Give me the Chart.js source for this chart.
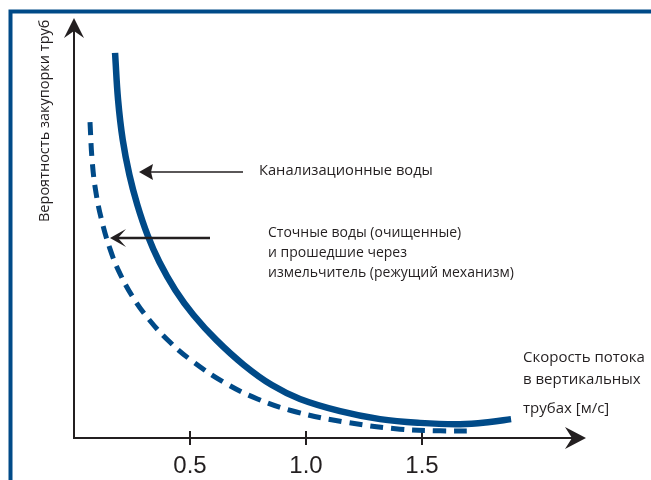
<!DOCTYPE html>
<html>
<head>
<meta charset="utf-8">
<script src="https://cdn.jsdelivr.net/npm/chart.js@4"></script>
<style>
  body { margin: 0; background: #fff; }
  canvas { display: block; }
</style>
</head>
<body>
<canvas id="clogChart" width="651" height="480"></canvas>
<script>
// скорость потока (м/с) и условная вероятность закупорки
const sewageX = [0.177, 0.190, 0.210, 0.239, 0.273, 0.317, 0.368, 0.437, 0.515, 0.614, 0.732, 0.853, 0.974, 1.147, 1.319, 1.491, 1.664, 1.793, 1.884];
const sewageY = [9.17, 8.05, 7.10, 6.26, 5.55, 4.83, 4.19, 3.52, 2.93, 2.33, 1.74, 1.26, 0.93, 0.64, 0.45, 0.36, 0.33, 0.38, 0.45];

const treatedX = [0.069, 0.078, 0.093, 0.119, 0.154, 0.195, 0.253, 0.325, 0.412, 0.503, 0.645, 0.791, 0.959, 1.168, 1.405, 1.578, 1.716];
const treatedY = [7.52, 6.62, 5.90, 5.19, 4.52, 3.95, 3.36, 2.81, 2.29, 1.86, 1.33, 0.93, 0.62, 0.38, 0.21, 0.17, 0.17];

const xTicks = [0.5, 1.0, 1.5];
const xTickLabels = ["0.5", "1.0", "1.5"];

const BLUE = "#004a88";
const INK = "#231f20";

function pairs(xs, ys) {
    return xs.map((x, i) => ({ x: x, y: ys[i] }));
}

function arrowHead(ctx, tipX, tipY, dir, len, half, notch) {
    // dir: angle the arrow points to
    const c = Math.cos(dir), s = Math.sin(dir);
    const pt = (a, b) => [tipX - a * c + b * s, tipY - a * s - b * c];
    const w1 = pt(len, half), w2 = pt(len, -half), n = pt(len - notch, 0);
    ctx.beginPath();
    ctx.moveTo(tipX, tipY);
    ctx.lineTo(w1[0], w1[1]);
    ctx.lineTo(n[0], n[1]);
    ctx.lineTo(w2[0], w2[1]);
    ctx.closePath();
    ctx.fill();
}

const decorPlugin = {
    id: "decor",
    beforeDatasetsDraw(chart) {
        const ctx = chart.ctx;
        const a = chart.chartArea;
        const xs = chart.scales.x;
        ctx.save();

        // рамка
        ctx.strokeStyle = BLUE;
        ctx.lineWidth = 4;
        ctx.beginPath();
        ctx.moveTo(10.5, 490);
        ctx.lineTo(10.5, 11.5);
        ctx.lineTo(660, 11.5);
        ctx.stroke();

        // оси
        ctx.strokeStyle = INK;
        ctx.fillStyle = INK;
        ctx.lineWidth = 2;
        ctx.beginPath();
        ctx.moveTo(a.left, a.top + 10);
        ctx.lineTo(a.left, a.bottom);
        ctx.lineTo(a.right - 10, a.bottom);
        ctx.stroke();
        arrowHead(ctx, a.left, a.top, -Math.PI / 2, 20, 10, 7);
        arrowHead(ctx, a.right, a.bottom, 0, 21, 11, 7);

        // деления и подписи
        ctx.font = "24px 'Liberation Sans Narrow', 'Liberation Sans', sans-serif";
        ctx.textAlign = "center";
        ctx.textBaseline = "alphabetic";
        xTicks.forEach((v, i) => {
            const px = Math.round(xs.getPixelForValue(v));
            ctx.beginPath();
            ctx.moveTo(px, a.bottom - 7);
            ctx.lineTo(px, a.bottom + 7);
            ctx.stroke();
            ctx.fillText(xTickLabels[i], px, 473);
        });

        ctx.font = "14.5px 'Open Sans', sans-serif";
        ctx.save();
        ctx.translate(49, 222);
        ctx.rotate(-Math.PI / 2);
        ctx.textAlign = "left";
        ctx.fillText("Вероятность закупорки труб", 0, 0);
        ctx.restore();

        ctx.textAlign = "left";
        ctx.font = "15px 'Open Sans', sans-serif";
        ctx.fillText("Скорость потока", 523, 362);
        ctx.fillText("в вертикальных", 523, 384);
        ctx.fillText("трубах [м/с]", 523, 413);
        ctx.restore();
    },
    afterDatasetsDraw(chart) {
        const ctx = chart.ctx;
        ctx.save();
        ctx.fillStyle = INK;
        ctx.strokeStyle = INK;
        ctx.textAlign = "left";
        ctx.textBaseline = "alphabetic";

        ctx.lineWidth = 1.5;
        ctx.beginPath();
        ctx.moveTo(243, 172);
        ctx.lineTo(148, 172);
        ctx.stroke();
        arrowHead(ctx, 139, 172, Math.PI, 14, 8, 2);
        ctx.font = "14.7px 'Open Sans', sans-serif";
        ctx.fillText("Канализационные воды", 259, 175);

        ctx.lineWidth = 2.5;
        ctx.beginPath();
        ctx.moveTo(210, 238);
        ctx.lineTo(118, 238);
        ctx.stroke();
        arrowHead(ctx, 110, 238, Math.PI, 16, 9, 8);
        ctx.font = "14px 'Open Sans', sans-serif";
        ctx.fillText("Сточные воды (очищенные)", 268, 237);
        ctx.fillText("и прошедшие через", 268, 257);
        ctx.fillText("измельчитель (режущий механизм)", 268, 277);
        ctx.restore();
    }
};

new Chart(document.getElementById("clogChart"), {
    type: "line",
    data: {
        datasets: [
            {
                label: "Канализационные воды",
                data: pairs(sewageX, sewageY),
                borderColor: BLUE,
                borderWidth: 6.5,
                pointRadius: 0,
                tension: 0.4,
                fill: false
            },
            {
                label: "Сточные воды (очищенные) и прошедшие через измельчитель",
                data: pairs(treatedX, treatedY),
                borderColor: BLUE,
                borderWidth: 5,
                borderDash: [13, 8],
                pointRadius: 0,
                tension: 0.4,
                fill: false
            }
        ]
    },
    options: {
        responsive: false,
        animation: false,
        clip: false,
        layout: {
            padding: { left: 74, right: 65, top: 18, bottom: 42 }
        },
        scales: {
            x: { type: "linear", min: 0, max: 2.207, display: false },
            y: { min: 0, max: 10, display: false }
        },
        plugins: {
            legend: { display: false },
            tooltip: { enabled: false }
        }
    },
    plugins: [decorPlugin]
});
</script>
</body>
</html>
